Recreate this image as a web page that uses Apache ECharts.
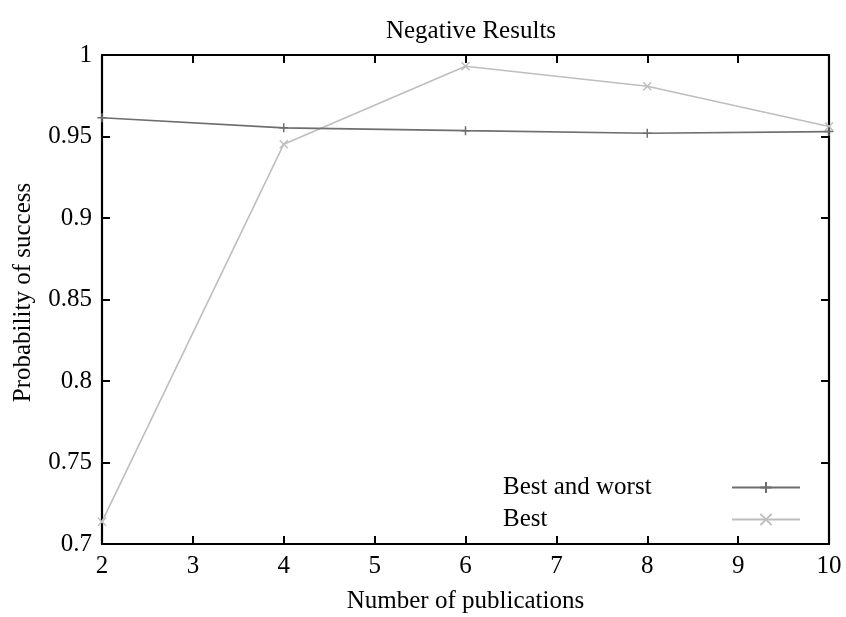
<!DOCTYPE html>
<html>
<head>
<meta charset="utf-8">
<script src="https://cdn.jsdelivr.net/npm/echarts@6/dist/echarts.min.js"></script>
<style>
  html, body { margin: 0; padding: 0; background: #fff; }
  #chart { width: 846px; height: 617px; }
</style>
</head>
<body>
<div id="chart"></div>
<script>
// Number of publications on the x axis
const publications = [2, 4, 6, 8, 10];
// Probability of success for each strategy
const bestAndWorst = [0.9615, 0.9553, 0.9536, 0.9520, 0.9530];
const best = [0.7137, 0.9453, 0.9931, 0.9808, 0.9561];
const seriesNames = ['Best and worst', 'Best'];

const FONT = 'Liberation Serif';
const plusPath = 'path://M0,-10V10M-10,0H10';
const crossPath = 'path://M-10,-10L10,10M-10,10L10,-10';

const pairs = (ys) => publications.map((x, i) => [x, ys[i]]);

const axisLineStyle = { color: '#000', width: 2.2 };
const tickStyle = { show: true, inside: true, length: 8, lineStyle: { color: '#000', width: 2 } };
const labelFont = { fontFamily: FONT, fontSize: 25, color: '#000' };

const chart = echarts.init(document.getElementById('chart'));
chart.setOption({
  animation: false,
  backgroundColor: '#fff',
  title: {
    text: 'Negative Results',
    left: 466, top: 14, textAlign: 'center',
    textStyle: { fontFamily: FONT, fontSize: 25, fontWeight: 'normal', color: '#000' }
  },
  grid: { left: 102, right: 17, top: 55, bottom: 73, outerBoundsMode: 'none', containLabel: false },
  legend: {
    orient: 'vertical',
    left: 498, top: 470,
    align: 'right',
    itemWidth: 68, itemHeight: 14, itemGap: 7,
    // fixed-width label box keeps the names left-aligned in one column
    formatter: (name) => '{n|' + name + '}',
    textStyle: {
      fontFamily: FONT, fontSize: 25, color: '#000',
      rich: { n: { fontFamily: FONT, fontSize: 25, lineHeight: 25, color: '#000', width: 224, align: 'left' } }
    },
    data: seriesNames
  },
  xAxis: [{
    type: 'value', min: 2, max: 10, interval: 1,
    name: 'Number of publications', nameLocation: 'middle', nameGap: 45,
    nameTextStyle: labelFont,
    axisLine: { lineStyle: axisLineStyle },
    axisTick: tickStyle,
    axisLabel: Object.assign({ margin: 10 }, labelFont),
    splitLine: { show: false }
  }, {
    type: 'value', min: 2, max: 10, interval: 1, position: 'top',
    axisLine: { lineStyle: axisLineStyle },
    axisTick: tickStyle,
    axisLabel: { show: false },
    splitLine: { show: false }
  }],
  yAxis: [{
    type: 'value', min: 0.7, max: 1, interval: 0.05,
    name: 'Probability of success', nameLocation: 'middle', nameGap: 66,
    nameTextStyle: Object.assign({ padding: [0, 0, 0, 14] }, labelFont),
    axisLine: { show: true, lineStyle: axisLineStyle },
    axisTick: tickStyle,
    axisLabel: Object.assign({ margin: 10 }, labelFont),
    splitLine: { show: false }
  }, {
    type: 'value', min: 0.7, max: 1, interval: 0.05, position: 'right',
    axisLine: { show: true, lineStyle: axisLineStyle },
    axisTick: tickStyle,
    axisLabel: { show: false },
    splitLine: { show: false }
  }],
  series: [{
    name: seriesNames[0],
    type: 'line',
    data: pairs(bestAndWorst),
    symbol: plusPath, symbolSize: 9,
    lineStyle: { color: '#6e6e6e', width: 1.6 },
    itemStyle: { color: 'rgba(0,0,0,0)', borderColor: '#6e6e6e', borderWidth: 1.5 },
    z: 3
  }, {
    name: seriesNames[1],
    type: 'line',
    data: pairs(best),
    symbol: crossPath, symbolSize: 8,
    lineStyle: { color: '#bebebe', width: 1.6 },
    itemStyle: { color: 'rgba(0,0,0,0)', borderColor: '#bebebe', borderWidth: 1.5 },
    z: 2
  }]
});
</script>
</body>
</html>
